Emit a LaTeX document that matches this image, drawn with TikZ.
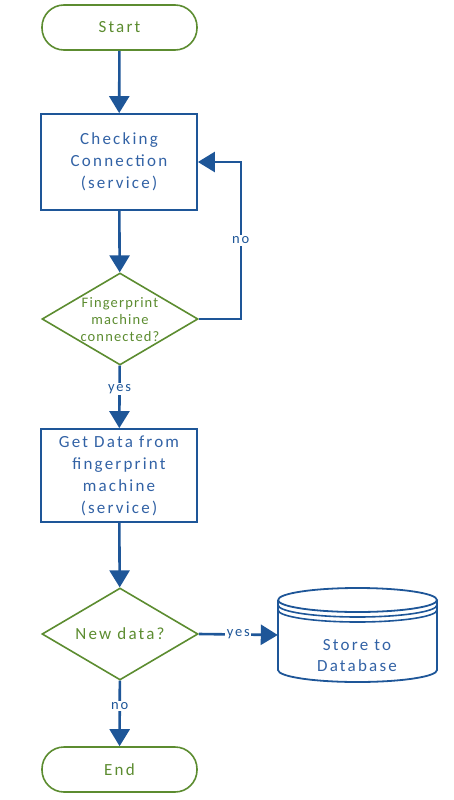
\documentclass[tikz,border=0pt]{standalone}
\usepackage{fontspec}
\setmainfont{Carlito}
\newfontfamily\skfont[LetterSpace=13]{Carlito}
\newfontfamily\skfontb[LetterSpace=8]{Carlito}
\usetikzlibrary{shapes.geometric,arrows.meta}
\definecolor{fgreen}{RGB}{92,140,48}
\definecolor{fblue}{RGB}{30,86,152}
\definecolor{tblue}{RGB}{50,98,165}
\tikzset{
  term/.style={draw=fgreen, line width=1.6pt, rounded corners=22pt, minimum width=155pt, minimum height=45pt, text=fgreen, font=\skfont\fontsize{17}{18}\selectfont, inner sep=0pt},
  procbox/.style={draw=fblue, line width=1.8pt, minimum width=156pt, minimum height=96pt, text=tblue, align=center, font=\skfont\fontsize{17}{22}\selectfont, inner sep=0pt},
  decide/.style={diamond, draw=fgreen, line width=1.6pt, minimum width=156pt, minimum height=92pt, inner sep=0pt},
  dectext/.style={text=fgreen, align=center, inner sep=0pt},
  flow/.style={draw=fblue, line width=2.6pt, -{Triangle[width=20pt,length=17pt]}},
  lab/.style={fill=white, text=fblue, font=\skfont\fontsize{14.5}{15}\selectfont, inner sep=1.5pt},
}
\begin{document}
\begin{tikzpicture}[x=1pt,y=-1pt]
\useasboundingbox (0,0) rectangle (453,800);
\node[term] (start) at (119.5,27.5) {Start};
\node[procbox] (chk) at (119,162) {Checking\\Connection\\(service)};
\node[decide] (d1) at (120,319) {};
\node[dectext, font=\skfontb\fontsize{14.5}{17}\selectfont] (d1t) at (120,320) {Fingerprint\\machine\\connected?};
\node[procbox, minimum height=93pt] (get) at (119,475.5) {Get Data from\\fingerprint\\machine\\(service)};
\node[decide] (d2) at (120,634) {};
\node[dectext, font=\skfont\fontsize{17}{18}\selectfont] (d2t) at (120,634) {New data?};
\node[term] (end) at (119.5,769.5) {End};
% database cylinder
\node[minimum width=159pt, minimum height=94pt, inner sep=0pt] (db) at (357.5,635) {};
\draw[fblue, line width=1.8pt]
  (278,600) arc[start angle=180, end angle=-180, x radius=79.5pt, y radius=12pt];
\draw[fblue, line width=1.6pt]
  (278,605) arc[start angle=180, end angle=360, x radius=79.5pt, y radius=12pt];
\draw[fblue, line width=1.6pt]
  (278,610) arc[start angle=180, end angle=360, x radius=79.5pt, y radius=12pt];
\draw[fblue, line width=1.8pt]
  (278,600) -- (278,670) arc[start angle=180, end angle=360, x radius=79.5pt, y radius=12pt] -- (437,600);
\node[text=tblue, align=center, font=\skfont\fontsize{17}{21}\selectfont, inner sep=0pt] (dbt) at (357,656) {Store to\\Database};
% connectors
\draw[flow] (start) -- (chk);
\draw[flow] (chk) -- (d1);
\draw[flow] (d1.east) -- ++(42,0) |- (chk.east) node[lab, pos=0.25] {no};
\draw[flow] (d1) -- node[lab, pos=0.37] {yes} (get);
\draw[flow] (get) -- (d2);
\draw[flow] (d2.east) -- node[lab, pos=0.5] {yes} (db.west);
\draw[flow] (d2) -- node[lab, pos=0.38] {no} (end);
\end{tikzpicture}
\end{document}
